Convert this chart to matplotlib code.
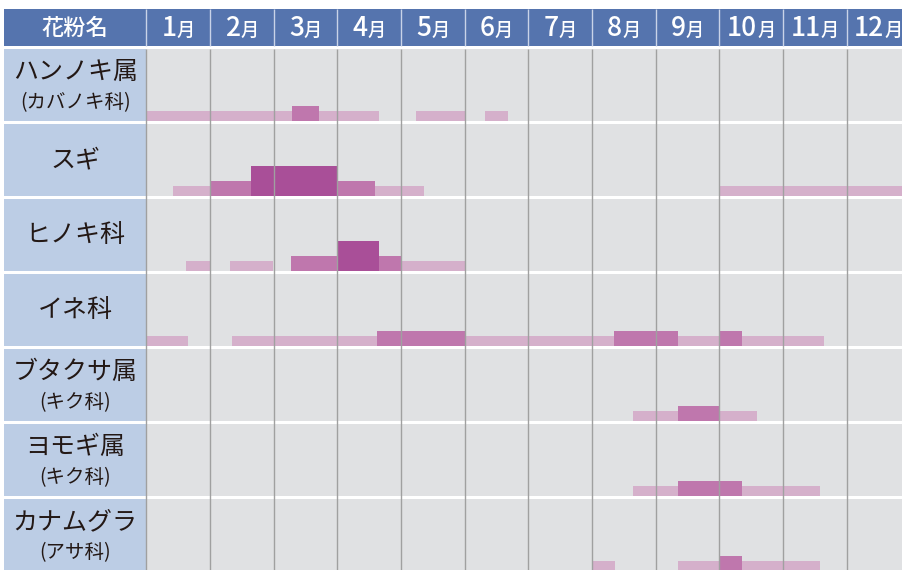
import matplotlib
matplotlib.use("Agg")
import matplotlib.pyplot as plt
from matplotlib.offsetbox import TextArea, HPacker, AnnotationBbox

plt.rcParams["font.family"] = ["Noto Sans CJK JP", "DejaVu Sans"]

# data: month positions (0 = start of Jan, 12 = end of Dec)
months = [str(m) for m in range(1, 13)]
names = ["ハンノキ属", "スギ", "ヒノキ科", "イネ科", "ブタクサ属", "ヨモギ属", "カナムグラ"]
families = ["(カバノキ科)", "", "", "", "(キク科)", "(キク科)", "(アサ科)"]

low = [
    [(0.0, 3.66), (4.24, 5.0), (5.32, 5.68)],
    [(0.42, 4.36), (9.0, 12.0)],
    [(0.62, 1.0), (1.31, 1.99), (2.27, 5.0)],
    [(0.0, 0.65), (1.34, 10.65)],
    [(7.65, 9.6)],
    [(7.65, 10.59)],
    [(7.0, 7.37), (8.35, 10.59)],
]
mid = [
    [(2.29, 2.71)],
    [(1.0, 3.59)],
    [(2.27, 4.0)],
    [(3.62, 5.0), (7.35, 8.36), (9.0, 9.36)],
    [(8.35, 9.0)],
    [(8.35, 9.36)],
    [(9.0, 9.36)],
]
high = [
    [],
    [(1.64, 2.99)],
    [(3.0, 3.65)],
    [],
    [],
    [],
    [],
]

HEADER = "#5574ae"
LABEL_BG = "#bccde5"
CELL_BG = "#e0e1e3"
C_LOW = "#d5b0cb"
C_MID = "#bf77ad"
C_HIGH = "#a94f98"
TXT = "#231815"

X0, X1 = -2.235, 11.887
Y_TOP, Y_BOT = -0.533, 6.947
ROW_H = 0.965

fig = plt.figure(figsize=(9.03, 5.70), dpi=100)
ax = fig.add_axes([4 / 903, 0, 899 / 903, 561 / 570])
ax.set_xlim(X0, X1)
ax.set_ylim(Y_BOT, Y_TOP)
ax.axis("off")

# header
ax.barh(Y_TOP, X1 - X0, left=X0, height=0.493, align="edge", color=HEADER, lw=0)
ax.vlines(range(0, 12), Y_TOP, Y_TOP + 0.493, colors="#c9d3e8", lw=1.0)
ax.text(X0 / 2, -0.28, "花粉名", color="white", fontsize=16, fontweight="medium",
        ha="center", va="center")
for m, lab in enumerate(months):
    box = HPacker(children=[TextArea(lab, textprops=dict(color="white", fontsize=19,
                                                         fontweight="medium")),
                            TextArea("月", textprops=dict(color="white", fontsize=13,
                                                         fontweight="medium"))],
                  align="baseline", pad=0, sep=0)
    ab = AnnotationBbox(box, (m + 0.5, -0.27), box_alignment=(0.5, 0.5),
                        frameon=False, pad=0)
    ax.add_artist(ab)

# rows
for i in range(len(names)):
    ax.barh(i, -X0, left=X0, height=ROW_H, align="edge", color=LABEL_BG, lw=0)
    ax.barh(i, X1, left=0, height=ROW_H, align="edge", color=CELL_BG, lw=0)
    for segs, h, c in [(low[i], 0.133, C_LOW), (mid[i], 0.2, C_MID), (high[i], 0.4, C_HIGH)]:
        for s, e in segs:
            ax.barh(i + ROW_H - h, e - s, left=s, height=h, align="edge", color=c, lw=0)
    if families[i]:
        ax.text(X0 / 2, i + 0.31, names[i], fontsize=18, color=TXT, ha="center", va="center")
        ax.text(X0 / 2, i + 0.72, families[i], fontsize=14, color=TXT, ha="center", va="center")
    else:
        ax.text(X0 / 2, i + 0.48, names[i], fontsize=18, color=TXT, ha="center", va="center")

ax.vlines(range(0, 12), 0, Y_BOT, colors="#a0a0a0", lw=1.0, zorder=5)

fig.savefig("out.png", dpi=100)
